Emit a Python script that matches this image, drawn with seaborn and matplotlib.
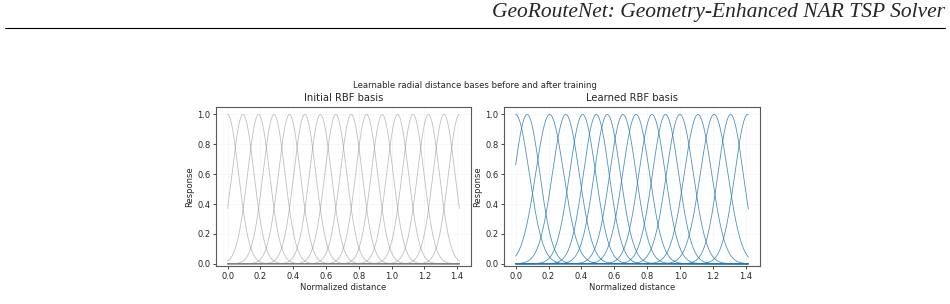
import numpy as np
import pandas as pd
import matplotlib
matplotlib.use("Agg")
import matplotlib.pyplot as plt
import seaborn as sns

# RBF basis parameters (distance range 0..sqrt(2))
d_max = 1.414
init_centers = [0.0, 0.094, 0.189, 0.283, 0.377, 0.471, 0.566, 0.660,
                0.754, 0.848, 0.943, 1.037, 1.131, 1.225, 1.320, 1.414]
init_widths = [0.0943] * 16

learned_centers = [0.0, 0.07, 0.207, 0.305, 0.407, 0.49, 0.557, 0.652,
                   0.732, 0.829, 0.911, 0.998, 1.108, 1.206, 1.306, 1.41]
learned_widths = [0.117, 0.109, 0.12, 0.115, 0.112, 0.11, 0.112, 0.113,
                  0.115, 0.113, 0.112, 0.115, 0.117, 0.118, 0.108, 0.11]

fig_title = "Learnable radial distance bases before and after training"
panel_titles = ["Initial RBF basis", "Learned RBF basis"]
header = "GeoRouteNet: Geometry-Enhanced NAR TSP Solver"


def basis_frame(centers, widths):
    x = np.linspace(0, d_max, 400)
    rows = []
    for k, (c, w) in enumerate(zip(centers, widths)):
        rows.append(pd.DataFrame({"x": x,
                                  "y": np.exp(-((x - c) / w) ** 2),
                                  "basis": k}))
    return pd.concat(rows, ignore_index=True)


sns.set_style("ticks")
plt.rcParams["font.family"] = ["DejaVu Sans"]
plt.rcParams["font.size"] = 6

fig = plt.figure(figsize=(9.5, 3.04), dpi=100)
ax1 = fig.add_axes([0.2274, 0.125, 0.2684, 0.523])
ax2 = fig.add_axes([0.5305, 0.125, 0.2695, 0.523])

init_df = basis_frame(init_centers, init_widths)
learned_df = basis_frame(learned_centers, learned_widths)

sns.lineplot(data=init_df, x="x", y="y", units="basis", estimator=None,
             color="gray", alpha=0.5, linewidth=0.6, ax=ax1)
sns.lineplot(data=learned_df, x="x", y="y", units="basis", estimator=None,
             color="#1f77b4", alpha=0.8, linewidth=0.6, ax=ax2)

for ax, title in zip([ax1, ax2], panel_titles):
    ax.set_title(title, fontsize=7.2, pad=4)
    ax.set_xlabel("Normalized distance", fontsize=6, labelpad=1.5)
    ax.set_ylabel("Response", fontsize=6, labelpad=2)
    ax.set_ylim(-0.015, 1.05)
    ax.set_xticks(np.arange(0, 1.41, 0.2))
    ax.set_yticks(np.arange(0, 1.01, 0.2))
    ax.tick_params(labelsize=6, length=2.5, width=0.6, pad=1.5)
    ax.grid(True, linestyle="--", linewidth=0.4, alpha=0.35)
    for s in ax.spines.values():
        s.set_visible(True)
        s.set_color("0.35")
        s.set_linewidth(0.8)

fig.text(0.5, 1 - 86 / 304, fig_title, ha="center", va="center", fontsize=6.1)

# page header from the paper this figure sits in
fig.text(0.995, 1 - 13 / 304, header, ha="right", va="center",
         fontsize=15.5, family=["Liberation Serif"], style="italic")
fig.add_artist(plt.Line2D([0.005, 0.995], [1 - 28 / 304] * 2,
                          color="black", linewidth=0.8))

fig.savefig("out.png", dpi=100)
